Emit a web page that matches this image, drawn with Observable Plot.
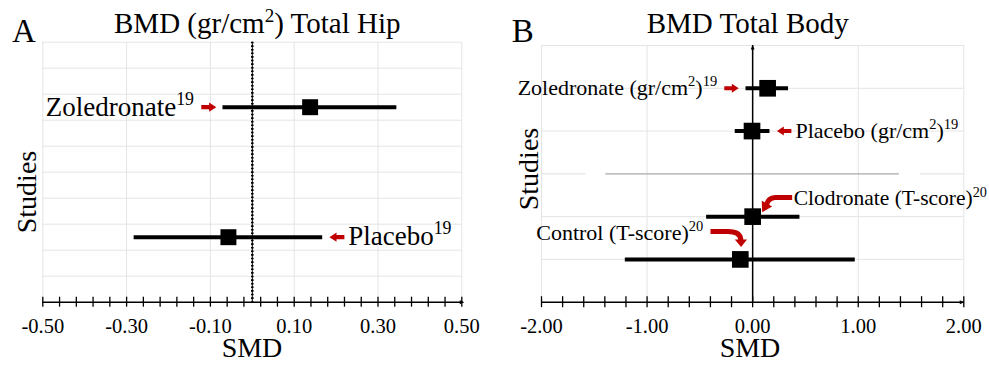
<!DOCTYPE html>
<html><head><meta charset="utf-8">
<script src="https://cdn.jsdelivr.net/npm/d3@7"></script>
<script src="https://cdn.jsdelivr.net/npm/@observablehq/plot@0.6"></script>
<style>
body{margin:0;background:#fff;}
#wrap{display:flex;width:989px;height:366px;overflow:hidden;}
</style></head><body><div id="wrap"></div>
<script>
// ---------- Panel A: BMD (gr/cm2) Total Hip ----------
const hipStudies = ["Zoledronate", "Placebo"];
const hipRefs = ["19", "19"];
const hipSlot = [8, 3];              // study row (band counted from bottom, of 10)
const hipSMD = [0.138, -0.057];
const hipLower = [-0.070, -0.282];
const hipUpper = [0.345, 0.168];
const hipTicks = [-0.50, -0.30, -0.10, 0.10, 0.30, 0.50];

// ---------- Panel B: BMD Total Body ----------
const bodyStudies = ["Zoledronate (gr/cm^2)", "Placebo (gr/cm^2)", "Clodronate (T-score)", "Control (T-score)"];
const bodyRefs = ["19", "19", "20", "20"];
const bodySlot = [5, 4, 2, 1];        // study row (gridline counted from bottom, of 6)
const bodySMD = [0.142, -0.006, 0.0, -0.117];
const bodyLower = [-0.063, -0.165, -0.436, -1.206];
const bodyUpper = [0.340, 0.164, 0.448, 0.972];
const bodyTicks = [-2.00, -1.00, 0.00, 1.00, 2.00];

const RED = "#c00000";
const FONT = "'Liberation Serif','Times New Roman',serif";

const hipRows = hipStudies.map((s, i) => ({study: s, ref: hipRefs[i], y: hipSlot[i] - 0.5, smd: hipSMD[i], lo: hipLower[i], hi: hipUpper[i]}));
const bodyRows = bodyStudies.map((s, i) => ({study: s, ref: bodyRefs[i], y: bodySlot[i], smd: bodySMD[i], lo: bodyLower[i], hi: bodyUpper[i]}));

// custom symbols
function blockArrow(dir) {
  return {draw(ctx, size) {
    const r = Math.sqrt(size / Math.PI), s = dir;
    const p = [[-r, -0.28*r], [0.05*r, -0.28*r], [0.05*r, -0.62*r], [r, 0], [0.05*r, 0.62*r], [0.05*r, 0.28*r], [-r, 0.28*r]];
    ctx.moveTo(p[0][0]*s, p[0][1]);
    for (let k = 1; k < p.length; k++) ctx.lineTo(p[k][0]*s, p[k][1]);
    ctx.closePath();
  }};
}
function triSymbol(angleDeg) {
  const a = angleDeg * Math.PI / 180;
  return {draw(ctx, size) {
    const r = Math.sqrt(size / Math.PI);
    const pts = [[r, 0], [-r*0.8, -r*0.75], [-r*0.8, r*0.75]].map(([x, y]) => [x*Math.cos(a) - y*Math.sin(a), x*Math.sin(a) + y*Math.cos(a)]);
    ctx.moveTo(pts[0][0], pts[0][1]); ctx.lineTo(pts[1][0], pts[1][1]); ctx.lineTo(pts[2][0], pts[2][1]); ctx.closePath();
  }};
}

function richText(sel, x, y, markup, size, anchor, extra = {}) {
  const t = sel.append("text").attr("x", x).attr("y", y).attr("font-size", size)
    .attr("text-anchor", anchor).attr("fill", "black").attr("font-family", FONT);
  if (extra.transform) t.attr("transform", extra.transform);
  const parts = markup.split(/(\^\d+)/).filter(s => s);
  const supSize = size * 0.66, shift = size * 0.4;
  let raised = false;
  for (const p of parts) {
    if (p.startsWith("^")) {
      t.append("tspan").attr("font-size", supSize).attr("dy", raised ? 0 : -shift).text(p.slice(1));
      raised = true;
    } else {
      t.append("tspan").attr("dy", raised ? shift : 0).text(p);
      raised = false;
    }
  }
  return t;
}

const fmt = d => d.toFixed(2);
const GRID = "#e4e4e4";

// ---------- Plot A ----------
const minorA = d3.range(0, 26).map(i => -0.5 + i * 0.04);
const plotA = Plot.plot({
  width: 494, height: 366,
  marginLeft: 42.3, marginRight: 32.7, marginTop: 41.7, marginBottom: 64.3,
  x: {domain: [-0.5, 0.5]},
  y: {domain: [0, 10], axis: null},
  style: {fontFamily: FONT, fontSize: "20.5px", color: "black", background: "white"},
  marks: [
    Plot.gridX(hipTicks, {stroke: GRID, strokeOpacity: 1}),
    Plot.gridY(d3.range(1, 11), {stroke: GRID, strokeOpacity: 1}),
    Plot.ruleX([0], {stroke: "black", strokeWidth: 1}),
    Plot.ruleX([0], {stroke: "black", strokeWidth: 2.6, strokeDasharray: "1.6,2"}),
    Plot.ruleY([0], {x1: -0.5, x2: 0.5, stroke: "black", strokeWidth: 1.5}),
    Plot.ruleX(minorA, {y1: 0, y2: 0, insetTop: -5, insetBottom: -5, stroke: "black", strokeWidth: 1.3}),
    Plot.dot([0.5], {x: d => d, y: 0, r: 2.6, symbol: triSymbol(0), fill: "black", stroke: "none"}),
    Plot.axisX(hipTicks, {tickSize: 0, tickPadding: 16, tickFormat: fmt}),
    Plot.ruleY(hipRows, {y: "y", x1: "lo", x2: "hi", stroke: "black", strokeWidth: 4}),
    Plot.dot(hipRows, {x: "smd", y: "y", symbol: "square", r: 9, fill: "black", stroke: "none"}),
    // pointer arrows next to the CI ends
    Plot.dot(hipRows.filter((d, i) => i === 0), {x: "lo", y: "y", dx: -14.2, r: 7.5, symbol: blockArrow(1), fill: RED, stroke: "none"}),
    Plot.dot(hipRows.filter((d, i) => i === 1), {x: "hi", y: "y", dx: 14.2, r: 7.5, symbol: blockArrow(-1), fill: RED, stroke: "none"})
  ]
});

{
  const sx = plotA.scale("x"), sy = plotA.scale("y");
  const g = d3.select(plotA);
  richText(g, 114, 33.3, "BMD (gr/cm^2) Total Hip", 29, "start");
  richText(g, 12, 42, "A", 33, "start");
  richText(g, 252, 357, "SMD", 28, "middle");
  richText(g, 0, 0, "Studies", 28, "middle", {transform: "translate(36,192) rotate(-90)"});
  const r0 = hipRows[0], r1 = hipRows[1];
  richText(g, sx.apply(r0.lo) - 28.5, sy.apply(r0.y) + 9, r0.study + "^" + r0.ref, 27, "end");
  richText(g, sx.apply(r1.hi) + 26, sy.apply(r1.y) + 8.5, r1.study + "^" + r1.ref, 27, "start");
}

// ---------- Plot B ----------
const minorB = d3.range(0, 21).map(i => -2 + i * 0.2);
const separator = [{x1: -2, x2: -1.58, c: GRID}, {x1: 1.59, x2: 2, c: GRID}, {x1: -1.39, x2: 1.39, c: "#a8a8a8"}];
const plotB = Plot.plot({
  width: 495, height: 366,
  marginLeft: 47, marginRight: 25.7, marginTop: 45, marginBottom: 64.3,
  x: {domain: [-2, 2]},
  y: {domain: [0, 6], axis: null},
  style: {fontFamily: FONT, fontSize: "20.5px", color: "black", background: "white"},
  marks: [
    Plot.gridX(bodyTicks, {stroke: GRID, strokeOpacity: 1}),
    Plot.gridY([1, 2, 4, 5, 6], {stroke: GRID, strokeOpacity: 1}),
    Plot.ruleY(separator, {y: 3, x1: "x1", x2: "x2", stroke: "c", strokeWidth: 1.2}),
    Plot.ruleX([0], {y1: 0, y2: 6, stroke: "black", strokeWidth: 1.5}),
    Plot.dot([0], {x: 0, y: 6, dy: 2, r: 2.6, symbol: triSymbol(-90), fill: "black", stroke: "none"}),
    Plot.ruleY([0], {x1: -2, x2: 2, stroke: "black", strokeWidth: 1.5}),
    Plot.ruleX(minorB, {y1: 0, y2: 0, insetTop: -5.5, insetBottom: -5.5, stroke: "black", strokeWidth: 1.3}),
    Plot.dot([2], {x: d => d, y: 0, dx: -2, r: 2.6, symbol: triSymbol(0), fill: "black", stroke: "none"}),
    Plot.axisX(bodyTicks, {tickSize: 0, tickPadding: 16, tickFormat: fmt}),
    Plot.ruleY(bodyRows, {y: "y", x1: "lo", x2: "hi", stroke: "black", strokeWidth: 4}),
    Plot.dot(bodyRows, {x: "smd", y: "y", symbol: "square", r: 9.4, fill: "black", stroke: "none"}),
    Plot.dot(bodyRows.filter((d, i) => i === 0), {x: "lo", y: "y", dx: -14.5, r: 7.2, symbol: blockArrow(1), fill: RED, stroke: "none"}),
    Plot.dot(bodyRows.filter((d, i) => i === 1), {x: "hi", y: "y", dx: 14.2, r: 7.2, symbol: blockArrow(-1), fill: RED, stroke: "none"})
  ]
});

{
  const sx = plotB.scale("x"), sy = plotB.scale("y");
  const g = d3.select(plotB);
  richText(g, 152.7, 33.3, "BMD Total Body", 29, "start");
  richText(g, 17.7, 42, "B", 33, "start");
  richText(g, 256, 357, "SMD", 28, "middle");
  richText(g, 0, 0, "Studies", 28, "middle", {transform: "translate(43.5,169) rotate(-90)"});
  const [z, p, c, k] = bodyRows;
  richText(g, sx.apply(z.lo) - 28.3, sy.apply(z.y) + 7, z.study + "^" + z.ref, 22, "end");
  richText(g, sx.apply(p.hi) + 26, sy.apply(p.y) + 7, p.study + "^" + p.ref, 22, "start");

  // curved pointers
  const cx = sx.apply(c.smd), cy = sy.apply(c.y);
  g.append("path").attr("fill", "none").attr("stroke", RED).attr("stroke-width", 5)
    .attr("d", `M${cx+40},${cy-18.7} L${cx+23},${cy-18.7} Q${cx+16},${cy-18.5} ${cx+14.5},${cy-11.5}`);
  {
    const tip = [cx+10, cy-4], base = [cx+14.8, cy-12.5];
    const vx = tip[0]-base[0], vy = tip[1]-base[1], L = Math.hypot(vx, vy), px = -vy/L*6, py = vx/L*6;
    g.append("path").attr("fill", RED).attr("d", `M${tip[0]},${tip[1]} L${base[0]+px},${base[1]+py} L${base[0]-px},${base[1]-py} Z`);
  }
  richText(g, cx + 41.6, cy - 11, c.study + "^" + c.ref, 21.5, "start");

  const kx = sx.apply(k.smd), ky = sy.apply(k.y);
  g.append("path").attr("fill", "none").attr("stroke", RED).attr("stroke-width", 5)
    .attr("d", `M${kx-29.3},${ky-27.3} L${kx-12},${ky-27.3} Q${kx+1},${ky-27.3} ${kx+1},${ky-18.5}`);
  g.append("path").attr("fill", RED).attr("d", `M${kx+1.3},${ky-12} L${kx-5},${ky-19.5} L${kx+7.2},${ky-19.5} Z`);
  richText(g, kx - 36.5, ky - 19, k.study + "^" + k.ref, 22, "end");
}

document.getElementById("wrap").append(plotA, plotB);
</script>
</body></html>
